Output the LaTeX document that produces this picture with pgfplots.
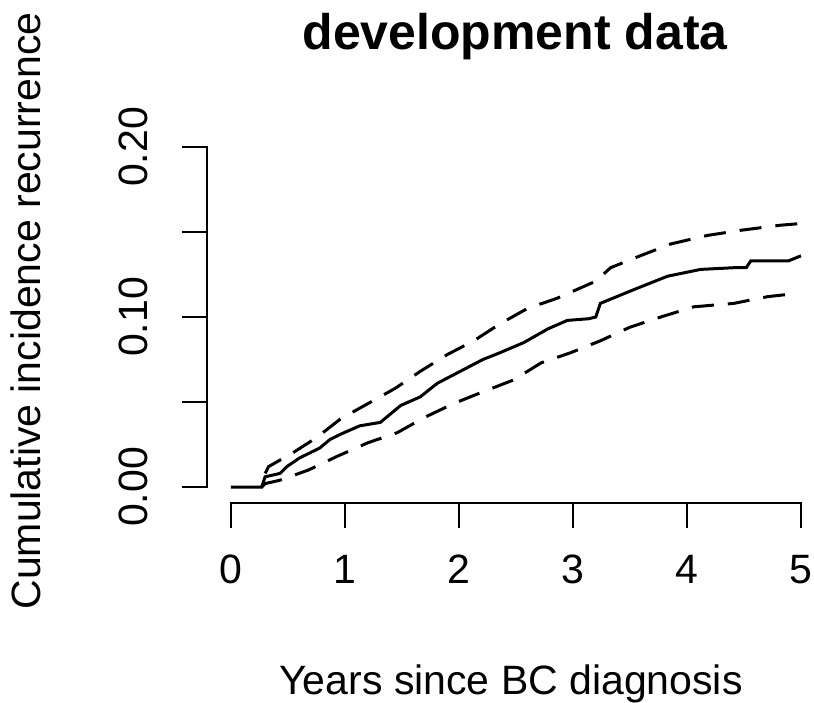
\documentclass[border=0pt]{standalone}
\usepackage{fontspec}
\setmainfont{Liberation Sans}
\usepackage{pgfplots}
\pgfplotsset{compat=1.18}
\begin{document}
\begin{tikzpicture}
\useasboundingbox (0,0) rectangle (814pt,703pt);
\begin{axis}[
  at={(207pt,200pt)}, anchor=south west,
  scale only axis, width=616.74pt, height=372.98pt,
  xmin=-0.21, xmax=5.2, ymin=-0.0094, ymax=0.21,
  axis x line*=bottom, axis y line*=left,
  axis line style={draw=none},
  xtick={0,1,2,3,4,5}, ytick={0,0.05,0.1,0.15,0.2},
  yticklabels={0.00,,0.10,,0.20},
  tick align=outside, major tick length=24pt,
  tick style={line width=2pt, black, line cap=rect},
  /pgf/number format/assume math mode=true,
  xticklabel style={font=\fontsize{41}{48}\selectfont, inner sep=0pt, anchor=north, yshift=-28pt},
  yticklabel style={font=\fontsize{41}{48}\selectfont, inner sep=0pt, xshift=-35pt, rotate=90, anchor=south},
  clip=false,
]
\draw[line width=2pt, line cap=rect] (axis cs:0,-0.0094) -- (axis cs:5,-0.0094);
\draw[line width=2pt, line cap=rect] (axis cs:-0.21,0) -- (axis cs:-0.21,0.2);
\addplot[black, line width=3pt, sharp plot] coordinates {
(0,0) (0.27,0) (0.30,0.006) (0.43,0.008) (0.49,0.012) (0.60,0.017) (0.78,0.023)
(0.87,0.028) (0.96,0.031) (1.13,0.036) (1.31,0.038) (1.49,0.048) (1.66,0.053)
(1.81,0.061) (2.01,0.068) (2.21,0.075) (2.36,0.079) (2.57,0.085) (2.78,0.093)
(2.95,0.098) (3.14,0.099) (3.20,0.100) (3.24,0.108) (3.53,0.116) (3.83,0.124)
(4.12,0.128) (4.41,0.129) (4.52,0.129) (4.56,0.133) (4.89,0.133) (5.00,0.136)
};
\addplot[black, line width=3pt, dash pattern=on 22pt off 14pt] coordinates {
(0.30,0.008) (0.33,0.012) (0.54,0.020) (0.75,0.029) (0.96,0.040) (1.20,0.049)
(1.44,0.058) (1.66,0.068) (1.90,0.078) (2.13,0.086) (2.36,0.096) (2.60,0.105)
(2.86,0.111) (3.13,0.119) (3.20,0.121) (3.33,0.129) (3.59,0.136) (3.86,0.143)
(4.18,0.148) (4.47,0.151) (4.82,0.154) (5.00,0.155)
};
\addplot[black, line width=3pt, dash pattern=on 22pt off 14pt] coordinates {
(0.27,0) (0.30,0.002) (0.43,0.004) (0.68,0.010) (0.93,0.018) (1.20,0.026)
(1.46,0.032) (1.70,0.041) (1.95,0.049) (2.21,0.056) (2.48,0.063) (2.72,0.073)
(2.98,0.079) (3.24,0.086) (3.50,0.094) (3.77,0.100) (4.06,0.106) (4.41,0.108)
(4.71,0.112) (4.98,0.114)
};
\end{axis}
\node[font=\bfseries\fontsize{50}{58}\selectfont, anchor=base] at (515pt,653pt) {development data};
\node[font=\fontsize{41}{48}\selectfont, anchor=base] at (511pt,8pt) {Years since BC diagnosis};
\node[font=\fontsize{41}{48}\selectfont, anchor=base, rotate=90] at (40pt,392pt) {Cumulative incidence recurrence};
\end{tikzpicture}
\end{document}
